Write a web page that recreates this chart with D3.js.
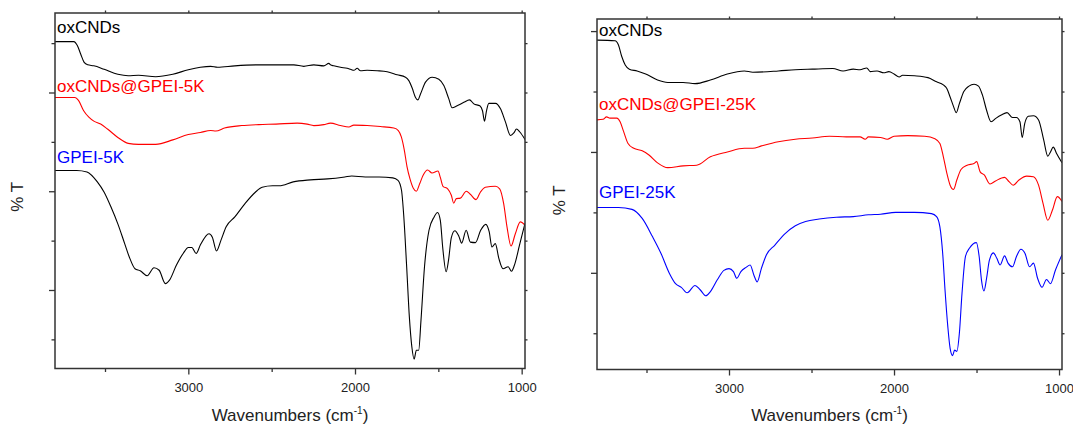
<!DOCTYPE html>
<html>
<head>
<meta charset="utf-8">
<script src="https://d3js.org/d3.v7.min.js"></script>
<style>
    body { margin: 0; background: #fff; }
    text { font-family: "Liberation Sans", Arial, sans-serif; }
</style>
</head>
<body>
<script>
    // x ticks (wavenumbers, cm-1)
    var xMajor = [3000, 2000, 1000];
    var xMinor = [3500, 2500, 1500];

    // y ticks (%T, arbitrary offset units, no labels on the chart)
    var yMajorL = [10, 30, 50];
    var yMinorL = [0, 20, 40, 60];
    var yMajorR = [10, 30, 50];
    var yMinorR = [0, 20, 40];

    // left panel spectra: [wavenumber, %T]
    var oxCNDs_L = [[3800,60.3],[3687,60.3],[3666,59.5],[3646,57.8],[3625,56.1],[3604,55.6],[3567,55.4],[3505,54.7],[3423,53.7],[3361,53.4],[3299,53.5],[3196,53.2],[3093,53.7],[3000,54.6],[2928,55.1],[2866,55.3],[2825,55.1],[2721,55.4],[2577,55.6],[2474,55.6],[2367,55.6],[2307,55.3],[2247,55.6],[2187,55.4],[2157,55.9],[2147,55.6],[2127,55.4],[2087,55.1],[2047,54.9],[2027,54.7],[2007,54.5],[1987,54.9],[1967,54.4],[1927,54.5],[1867,54.4],[1807,54.2],[1747,53.6],[1697,53.1],[1677,52.4],[1657,50.9],[1637,49.0],[1623,48.5],[1607,49.7],[1577,52.1],[1537,53.1],[1497,52.7],[1467,51.4],[1437,48.7],[1417,46.9],[1387,47.3],[1347,48.0],[1313,48.5],[1287,47.7],[1251,47.3],[1235,46.3],[1223,44.2],[1211,46.3],[1197,47.8],[1157,47.8],[1127,46.7],[1097,44.0],[1067,41.3],[1047,41.8],[1031,42.6],[1011,42.0],[977,40.3]];
    var oxGPEI5K = [[3800,49.0],[3680,49.0],[3659,48.4],[3628,46.3],[3597,45.0],[3567,44.2],[3526,43.6],[3485,42.6],[3423,40.9],[3361,39.7],[3299,39.5],[3196,39.5],[3093,40.4],[3000,41.5],[2928,41.9],[2866,42.3],[2835,42.2],[2783,42.8],[2680,43.3],[2577,43.5],[2474,43.6],[2347,43.8],[2287,43.6],[2247,43.3],[2187,43.5],[2147,43.8],[2087,43.3],[2037,43.0],[2007,43.4],[1927,43.3],[1847,43.1],[1767,42.8],[1740,42.3],[1722,41.0],[1705,38.5],[1688,35.0],[1670,32.5],[1650,30.6],[1632,30.0],[1612,31.5],[1592,33.2],[1564,34.3],[1538,33.7],[1502,34.1],[1488,32.8],[1472,31.0],[1444,30.5],[1422,29.2],[1408,27.6],[1392,28.5],[1368,28.6],[1332,30.0],[1308,29.4],[1274,28.3],[1248,29.8],[1218,30.8],[1158,31.0],[1132,30.5],[1108,27.5],[1088,22.8],[1064,18.9],[1038,21.4],[1008,23.8],[980,23.1]];
    var gpei5K = [[3800,34.2],[3670,34.2],[3608,33.9],[3546,31.9],[3505,29.8],[3464,26.8],[3423,23.4],[3382,19.4],[3351,16.4],[3320,14.3],[3289,13.9],[3247,12.9],[3206,14.5],[3175,14.0],[3138,11.3],[3113,12.0],[3072,15.0],[3031,17.4],[3000,18.6],[2979,18.6],[2953,17.4],[2928,19.1],[2876,21.4],[2856,20.7],[2831,17.9],[2804,20.1],[2773,22.8],[2721,24.8],[2660,27.5],[2598,29.8],[2557,30.8],[2495,31.1],[2454,31.1],[2371,31.9],[2268,32.3],[2165,32.5],[2061,32.9],[2020,33.1],[1938,32.9],[1855,32.9],[1773,32.7],[1742,32.2],[1721,30.2],[1707,24.8],[1690,14.7],[1674,4.6],[1659,-1.5],[1645,-4.0],[1632,-2.2],[1618,-2.2],[1604,3.9],[1583,14.7],[1556,22.1],[1525,24.8],[1505,25.7],[1488,24.1],[1474,18.7],[1453,13.7],[1439,16.0],[1422,20.6],[1401,22.0],[1377,20.9],[1360,19.5],[1333,22.1],[1308,19.7],[1277,19.6],[1246,22.1],[1215,23.3],[1195,21.8],[1178,18.7],[1158,19.4],[1137,16.4],[1112,14.3],[1081,14.7],[1061,13.8],[1040,15.4],[1013,19.1],[980,23.5]];

    // right panel spectra: [wavenumber, %T]
    var oxCNDs_R = [[3800,48.5],[3691,48.4],[3670,47.7],[3650,45.8],[3629,44.4],[3604,43.7],[3557,43.4],[3505,42.9],[3433,41.9],[3371,41.5],[3278,41.5],[3206,41.3],[3113,41.9],[3010,42.9],[2907,43.4],[2856,43.2],[2701,43.4],[2598,43.6],[2495,43.7],[2371,43.8],[2309,43.4],[2247,43.7],[2206,43.6],[2165,43.9],[2144,43.3],[2103,43.4],[2062,43.1],[2031,43.3],[2000,42.9],[1969,42.4],[1948,42.7],[1876,42.6],[1794,42.3],[1742,41.6],[1701,41.1],[1680,40.5],[1660,39.1],[1639,37.5],[1623,36.5],[1604,38.0],[1577,40.0],[1546,40.9],[1515,41.2],[1488,40.9],[1464,39.4],[1439,36.9],[1412,35.0],[1381,35.6],[1350,36.1],[1315,36.5],[1282,35.7],[1258,35.7],[1237,35.0],[1223,32.4],[1208,34.7],[1186,35.9],[1155,36.0],[1124,35.3],[1093,32.0],[1068,29.3],[1052,30.0],[1035,30.8],[1014,29.7],[982,28.2]];
    var oxGPEI25K = [[3800,35.3],[3763,35.4],[3742,35.8],[3722,35.6],[3680,35.6],[3660,35.0],[3639,33.4],[3612,31.4],[3577,30.6],[3526,30.2],[3485,29.5],[3433,28.2],[3371,27.4],[3278,27.7],[3196,27.8],[3113,29.2],[3010,30.0],[2907,30.6],[2856,30.6],[2804,31.0],[2701,31.7],[2598,32.1],[2495,32.3],[2392,32.6],[2289,32.5],[2206,32.5],[2175,32.1],[2155,32.5],[2082,32.4],[2041,32.1],[2000,32.6],[1917,32.7],[1814,32.6],[1752,32.2],[1722,31.4],[1701,29.2],[1680,26.5],[1660,24.5],[1639,23.8],[1619,25.4],[1594,27.1],[1557,27.8],[1515,28.1],[1499,28.4],[1478,26.7],[1453,26.2],[1418,24.7],[1385,25.2],[1330,25.8],[1303,25.1],[1278,24.5],[1241,25.4],[1196,26.0],[1155,25.9],[1124,24.5],[1097,21.5],[1068,18.7],[1041,20.3],[1010,22.6],[982,21.8]];
    var gpei25K = [[3800,20.8],[3670,20.8],[3588,20.5],[3526,19.0],[3464,16.0],[3412,13.2],[3361,9.9],[3324,8.2],[3289,7.6],[3254,6.7],[3206,7.9],[3175,7.2],[3140,6.2],[3113,6.9],[3072,8.8],[3031,10.4],[3000,10.7],[2973,10.2],[2953,9.1],[2928,10.2],[2897,10.9],[2872,11.3],[2849,9.6],[2829,8.5],[2804,10.7],[2773,13.0],[2722,14.6],[2660,16.5],[2598,17.8],[2536,18.5],[2454,18.9],[2350,19.2],[2247,19.3],[2155,19.6],[2082,19.7],[1990,20.0],[1876,20.0],[1773,19.8],[1742,19.3],[1722,17.6],[1705,13.2],[1691,7.2],[1674,1.1],[1660,-2.5],[1645,-3.7],[1633,-2.8],[1619,-3.0],[1604,0],[1588,6.6],[1567,12.7],[1542,14.1],[1501,15.0],[1484,12.7],[1470,8.8],[1455,7.0],[1439,9.1],[1422,12.1],[1398,13.3],[1377,12.4],[1357,11.3],[1330,12.8],[1309,11.6],[1282,11.0],[1258,12.7],[1231,13.9],[1206,13.2],[1179,11.0],[1155,11.6],[1130,9.1],[1103,7.6],[1076,8.9],[1052,8.2],[1021,10.5],[982,13.0]];

    var svg = d3.select('body').append('svg')
        .attr('width', 1073)
        .attr('height', 425);

    function drawPanel(p) {
        var x = d3.scaleLinear().domain(p.xDomain).range([p.left, p.right]);
        var y = d3.scaleLinear().domain(p.yDomain).range([p.bottom, p.top]);
        var g = svg.append('g');

        g.append('clipPath').attr('id', p.id)
            .append('rect')
            .attr('x', p.left).attr('y', p.top)
            .attr('width', p.right - p.left).attr('height', p.bottom - p.top);

        var line = d3.line()
            .x(function (d) { return x(d[0]); })
            .y(function (d) { return y(d[1]); })
            .curve(d3.curveMonotoneX);

        p.series.forEach(function (s) {
            g.append('path')
                .datum(s.data)
                .attr('clip-path', 'url(#' + p.id + ')')
                .attr('fill', 'none')
                .attr('stroke', s.color)
                .attr('stroke-width', 1.1)
                .attr('d', line);
        });

        //bottom axis: labelled majors + minors
        g.append('g').attr('class', 'ax').attr('transform', 'translate(0,' + p.bottom + ')')
            .call(d3.axisBottom(x).tickValues(xMajor).tickSize(6).tickPadding(8).tickFormat(d3.format('d')));
        g.append('g').attr('class', 'ax').attr('transform', 'translate(0,' + p.bottom + ')')
            .call(d3.axisBottom(x).tickValues(xMinor).tickSize(3.5).tickFormat(''));
        //mirrored ticks on top
        g.append('g').attr('class', 'ax').attr('transform', 'translate(0,' + p.top + ')')
            .call(d3.axisTop(x).tickValues(xMajor.concat(xMinor)).tickSize(2.5).tickFormat(''));
        //left axis, no labels
        g.append('g').attr('class', 'ax').attr('transform', 'translate(' + p.left + ',0)')
            .call(d3.axisLeft(y).tickValues(p.yMajor).tickSize(6).tickFormat(''));
        g.append('g').attr('class', 'ax').attr('transform', 'translate(' + p.left + ',0)')
            .call(d3.axisLeft(y).tickValues(p.yMinor).tickSize(3.5).tickFormat(''));
        g.append('g').attr('class', 'ax').attr('transform', 'translate(' + p.right + ',0)')
            .call(d3.axisRight(y).tickValues(p.yMajor.concat(p.yMinor)).tickSize(2.5).tickFormat(''));

        g.selectAll('.ax .domain').remove();
        g.selectAll('.ax line').attr('stroke', '#333').attr('stroke-width', 1.3);
        g.selectAll('.ax text').attr('fill', '#222').style('font-size', '13px')
            .style('font-family', '"Liberation Sans", Arial, sans-serif');

        g.append('rect')
            .attr('x', p.left).attr('y', p.top)
            .attr('width', p.right - p.left).attr('height', p.bottom - p.top)
            .attr('fill', 'none').attr('stroke', '#333').attr('stroke-width', 1.5);

        p.labels.forEach(function (l) {
            g.append('text')
                .attr('x', p.left + 2).attr('y', l.y)
                .attr('fill', l.color)
                .style('font-size', '17px')
                .text(l.text);
        });

        //axis titles
        var xt = g.append('text')
            .attr('x', (p.left + p.right) / 2).attr('y', 421)
            .attr('text-anchor', 'middle')
            .attr('fill', '#222')
            .style('font-size', '17px');
        xt.append('tspan').text('Wavenumbers (cm');
        xt.append('tspan').attr('dy', -7).style('font-size', '10px').text('-1');
        xt.append('tspan').attr('dy', 7).text(')');

        g.append('text')
            .attr('transform', 'translate(' + (p.left - 32) + ',' + ((p.top + p.bottom) / 2 + 6) + ') rotate(-90)')
            .attr('text-anchor', 'middle')
            .attr('fill', '#222')
            .style('font-size', '17px')
            .text('% T');
    }

    drawPanel({
        id: 'clipL', left: 55, right: 525, top: 13, bottom: 368.5,
        xDomain: [3800, 980], yDomain: [-5.9, 66.1],
        yMajor: yMajorL, yMinor: yMinorL,
        series: [
            {data: oxCNDs_L, color: '#000'},
            {data: oxGPEI5K, color: '#ff0000'},
            {data: gpei5K, color: '#000'}
        ],
        labels: [
            {text: 'oxCNDs', color: '#000', y: 33},
            {text: 'oxCNDs@GPEI-5K', color: '#ff0000', y: 92},
            {text: 'GPEI-5K', color: '#0000ff', y: 163}
        ]
    });

    drawPanel({
        id: 'clipR', left: 597, right: 1062, top: 19, bottom: 369.5,
        xDomain: [3800, 982], yDomain: [-6, 52],
        yMajor: yMajorR, yMinor: yMinorR,
        series: [
            {data: oxCNDs_R, color: '#000'},
            {data: oxGPEI25K, color: '#ff0000'},
            {data: gpei25K, color: '#0000ff'}
        ],
        labels: [
            {text: 'oxCNDs', color: '#000', y: 36},
            {text: 'oxCNDs@GPEI-25K', color: '#ff0000', y: 110},
            {text: 'GPEI-25K', color: '#0000ff', y: 198}
        ]
    });
</script>
</body>
</html>
